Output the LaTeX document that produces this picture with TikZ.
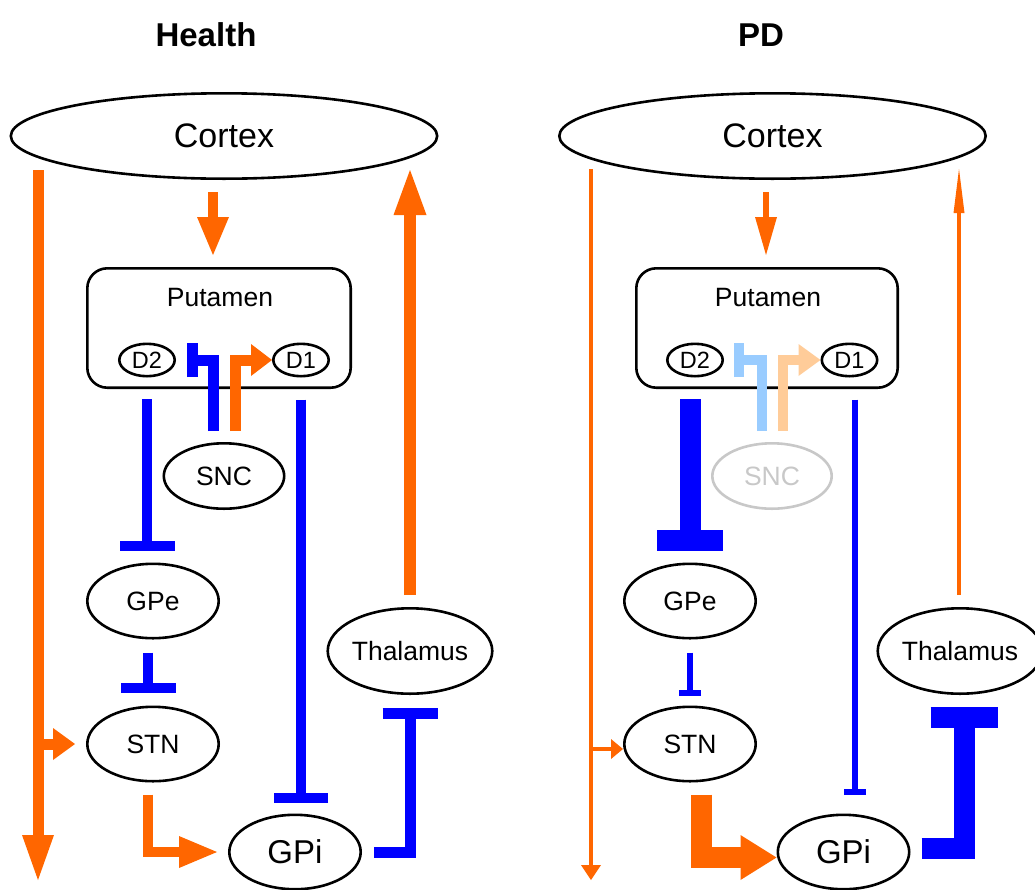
\documentclass[tikz,border=0pt]{standalone}
\usepackage{fontspec}
\setmainfont{Liberation Sans}
\usetikzlibrary{arrows.meta, shapes.geometric}
\definecolor{bgorange}{HTML}{FF6600}
\definecolor{bgblue}{HTML}{0000FF}
\definecolor{bgpaleblue}{HTML}{99CCFF}
\definecolor{bgpaleorange}{HTML}{FFCC99}
\definecolor{bgfade}{HTML}{C8C8C8}
\newcommand{\ftitle}{\fontsize{33}{38}\selectfont\bfseries}
\newcommand{\fcortex}{\fontsize{34}{40}\selectfont}
\newcommand{\fgpi}{\fontsize{33}{38}\selectfont}
\newcommand{\fmid}{\fontsize{26.5}{30}\selectfont}
\newcommand{\fsmall}{\fontsize{23.5}{27}\selectfont}
\tikzset{
  bg area/.style 2 args={draw=black, ellipse, line width=2.6pt, inner sep=0pt,
    minimum width=#1, minimum height=#2, font=\fmid},
  bg rec/.style={draw=black, ellipse, line width=2.6pt, inner sep=0pt,
    minimum width=55.4pt, minimum height=32.4pt, font=\fsmall},
  bg box/.style={draw=black, rounded corners=20pt, line width=2.6pt,
    minimum width=263.4pt, minimum height=119.4pt},
  bg lab/.style={inner sep=0pt, font=\fmid},
  bg title/.style={inner sep=0pt, font=\ftitle},
  bg exc/.style n args={3}{draw=bgorange, line width=#1,
    -{Triangle[length=#2, width=#3, line width=0pt]}},
  bg inh/.style 2 args={draw=bgblue, line width=#1, -{Bar[width=#2]}},
}

\begin{document}
\begin{tikzpicture}[x=1pt, y=-1pt]
 \useasboundingbox (0,0) rectangle (1035,889);
 % Health
 \node[bg title, anchor=base] (titleH) at (206,46) {Health};
 \node[bg area={426.4pt}{85.4pt}, font=\fcortex] (cortexH) at (224,136) {Cortex};
 \node[bg box] (putH) at (219,328) {};
 \node[bg lab, anchor=base] (putHlab) at (220,306) {Putamen};
 \node[bg rec] (d2H) at (147,360) {D2};
 \node[bg rec] (d1H) at (301,360) {D1};
 \node[bg area={120.4pt}{65.4pt}] (sncH) at (224,476) {SNC};
 \node[bg area={131.4pt}{74.4pt}] (gpeH) at (153,601) {GPe};
 \node[bg area={131.4pt}{74.4pt}] (stnH) at (153,744) {STN};
 \node[bg area={131.4pt}{74.4pt}, font=\fgpi] (gpiH) at (295,852) {GPi};
 \node[bg area={163.4pt}{85.4pt}] (thalH) at (410,651) {Thalamus};
 \coordinate (hTop) at (38,170);
 \coordinate (hEnd) at (38,880);
 \coordinate (hBack) at (thalH |- hTop);
 \draw[bg exc={11pt}{45pt}{32pt}] (hTop) -- (hEnd);
 \draw[bg exc={11pt}{22pt}{32pt}, shorten >=11pt] (hTop |- stnH.west) -- (stnH.west);
 \draw[bg exc={10pt}{38pt}{32pt}, shorten <=12pt, shorten >=12pt]
   ([xshift=-11pt]cortexH.south) -- ([xshift=-6pt]putH.north);
 \draw[bg exc={12pt}{45pt}{33pt}, shorten <=12pt] (thalH.north) -- (hBack);
 \draw[bg inh={11pt}{34pt}, shorten <=11pt, shorten >=11pt] ([xshift=-11pt]sncH.north) |- (d2H.east);
 \draw[bg exc={11pt}{21pt}{32pt}, shorten <=11pt] ([xshift=11pt]sncH.north) |- (d1H.west);
 \draw[bg inh={10pt}{55pt}, shorten <=10pt, shorten >=12pt] (d2H |- putH.south) -- (d2H |- gpeH.north);
 \draw[bg inh={10pt}{55pt}, shorten <=13pt, shorten >=13pt]
   ([xshift=-5pt]gpeH.south) -- ([xshift=-5pt]stnH.north);
 \draw[bg exc={10pt}{38pt}{32pt}, shorten <=12pt, shorten >=11pt] ([xshift=-5pt]stnH.south) |- (gpiH.west);
 \draw[bg inh={10pt}{54pt}, shorten <=22pt, shorten >=11pt] (d1H.south) -- (d1H |- gpiH.north);
 \draw[bg inh={11pt}{55pt}, shorten <=12pt, shorten >=13pt] (gpiH.east) -| (thalH.south);
 % PD
 \node[bg title, anchor=base] (titleP) at (761,46) {PD};
 \node[bg area={426.4pt}{85.4pt}, font=\fcortex] (cortexP) at (772.5,136) {Cortex};
 \node[bg box, minimum width=261.4pt] (putP) at (767,328) {};
 \node[bg lab, anchor=base] (putPlab) at (768,306) {Putamen};
 \node[bg rec] (d2P) at (695,360) {D2};
 \node[bg rec] (d1P) at (849.5,360) {D1};
 \node[bg area={119.4pt}{65.4pt}, draw=bgfade, text=bgfade] (sncP) at (772,476) {SNC};
 \node[bg area={131.4pt}{74.4pt}] (gpeP) at (690,601) {GPe};
 \node[bg area={131.4pt}{74.4pt}] (stnP) at (690,744) {STN};
 \node[bg area={131.4pt}{74.4pt}, font=\fgpi] (gpiP) at (843.5,852) {GPi};
 \node[bg area={163.4pt}{85.4pt}] (thalP) at (960,651) {Thalamus};
 \coordinate (pTop) at (591,169);
 \coordinate (pTap) at (591,749);
 \coordinate (pEnd) at (591,880);
 \coordinate (pBack) at ([xshift=-1pt]thalP |- pTop);
 \draw[bg exc={4pt}{15pt}{20pt}] (pTop) -- (pEnd);
 \draw[bg exc={4pt}{12pt}{20pt}] (pTap) -- (stnP.west |- pTap);
 \draw[bg exc={6pt}{38pt}{22pt}, shorten <=12pt, shorten >=12pt]
   ([xshift=-6.5pt]cortexP.south) -- ([xshift=-1pt]putP.north);
 \draw[bg exc={4pt}{44pt}{11pt}, shorten <=12pt] ([xshift=-1pt]thalP.north) -- (pBack);
 \draw[bg inh={10pt}{34pt}, draw=bgpaleblue, shorten <=11pt, shorten >=10pt]
   ([xshift=-10pt]sncP.north) |- (d2P.east);
 \draw[bg exc={10pt}{22pt}{32pt}, draw=bgpaleorange, shorten <=11pt] ([xshift=11pt]sncP.north) |- (d1P.west);
 \draw[bg inh={21pt}{66pt}, shorten <=10pt, shorten >=12pt] (gpeP |- putP.south) -- (gpeP.north);
 \draw[bg inh={6pt}{22pt}, shorten <=13pt, shorten >=10pt] (gpeP.south) -- (stnP.north);
 \draw[bg exc={21pt}{36pt}{45pt}, shorten <=12pt]
   ([xshift=11pt]stnP.south) |- ([yshift=-5.5pt]gpiP.west);
 \draw[bg inh={6pt}{22pt}, shorten <=22pt, shorten >=19pt] ([xshift=5pt]d1P.south) -- ([xshift=11pt]gpiP.north);
 \draw[bg inh={21pt}{67pt}, shorten <=11pt, shorten >=12pt]
   ([yshift=3.5pt]gpiP.east) -| ([xshift=4pt]thalP.south);
\end{tikzpicture}
\end{document}
